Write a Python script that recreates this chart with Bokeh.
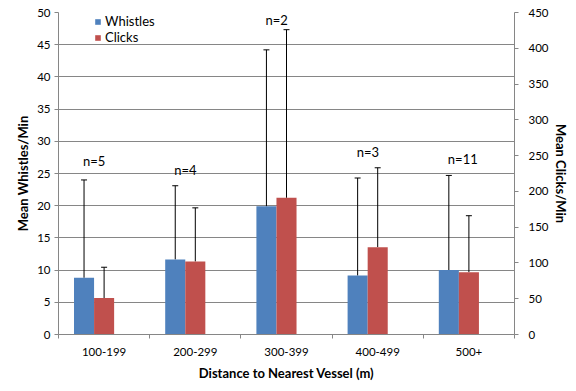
from bokeh.plotting import figure
from bokeh.models import (Range1d, LinearAxis, FixedTicker, Whisker, TeeHead, Legend,
                          LegendItem, ColumnDataSource)
from bokeh.transform import dodge
from bokeh.core.properties import value
from bokeh.embed import file_html
from bokeh.resources import INLINE

categories = ["100-199", "200-299", "300-399", "400-499", "500+"]
whistles = [8.8, 11.65, 19.9, 9.15, 10.0]
whistles_err_top = [24.0, 23.1, 44.2, 24.3, 24.7]
clicks = [51, 102, 191, 122, 87]
clicks_err_top = [94, 177, 426, 233, 166]
n_labels = ["n=5", "n=4", "n=2", "n=3", "n=11"]
n_label_y = [26.9, 25.6, 48.9, 28.4, 27.3]
left_ticks = list(range(0, 51, 5))
right_ticks = list(range(0, 451, 50))

FONT = "Lato"
GRAY = "#868686"
BLUE = "#4F81BD"
RED = "#C0504D"
TICK_FS = "11.5px"
TEXT_FS = "13px"

ncat = len(categories)
centers = [i + 0.5 for i in range(ncat)]
bounds = list(range(ncat + 1))
src = ColumnDataSource(dict(x=centers, cat=categories, w=whistles, we=whistles_err_top,
                            c=clicks, ce=clicks_err_top, lab=n_labels, ly=n_label_y))

p = figure(frame_width=456, frame_height=322, x_range=Range1d(0, ncat),
           y_range=Range1d(0, 50), output_backend="svg", toolbar_location=None,
           x_axis_location=None, y_axis_location=None,
           min_border_left=58, min_border_right=10, min_border_top=12, min_border_bottom=10)
p.extra_y_ranges = {"clicks": Range1d(0, 450)}
p.outline_line_color = None
p.background_fill_color = "white"

def style_axis(ax):
    ax.axis_line_color = GRAY
    ax.major_tick_line_color = GRAY
    ax.minor_tick_line_color = None
    ax.major_tick_in = 0
    ax.major_tick_out = 4
    ax.major_label_text_font = FONT
    ax.major_label_text_font_size = TICK_FS
    ax.major_label_text_color = "black"
    ax.axis_label_text_font = FONT
    ax.axis_label_text_font_size = TEXT_FS
    ax.axis_label_text_font_style = "bold"
    ax.axis_label_text_color = "black"

yl = LinearAxis(ticker=FixedTicker(ticks=left_ticks), axis_label="Mean Whistles/Min")
style_axis(yl)
yl.major_label_standoff = 4
yl.axis_label_standoff = 3
p.add_layout(yl, "left")

yr = LinearAxis(y_range_name="clicks", ticker=FixedTicker(ticks=right_ticks), axis_label="Mean Clicks/Min")
style_axis(yr)
yr.major_label_standoff = 10
yr.axis_label_standoff = 1
p.add_layout(yr, "right")

xc = LinearAxis(ticker=FixedTicker(ticks=centers, minor_ticks=bounds),
                axis_label="Distance to Nearest Vessel (m)",
                major_label_overrides={c: cat for c, cat in zip(centers, categories)})
style_axis(xc)
xc.major_tick_line_color = None
xc.major_tick_out = 0
xc.minor_tick_line_color = GRAY
xc.minor_tick_in = 0
xc.minor_tick_out = 4
xc.major_label_standoff = 9
xc.axis_label_standoff = 6
p.add_layout(xc, "below")

p.xgrid.visible = False
p.ygrid.grid_line_color = GRAY
p.ygrid.ticker = FixedTicker(ticks=left_ticks)

WOFF = -0.22
rw = p.vbar(x=dodge("x", WOFF), top="w", width=0.22, source=src,
            fill_color=BLUE, line_color=None)
rc = p.vbar(x=dodge("x", 0.0), top="c", width=0.22, source=src,
            fill_color=RED, line_color=None, y_range_name="clicks")

ww = Whisker(base=dodge("x", WOFF), lower="w", upper="we", source=src,
             line_color="black", line_width=1,
             upper_head=TeeHead(size=6, line_color="black", line_width=1), lower_head=None)
p.add_layout(ww)
wc = Whisker(base=dodge("x", 0.0), lower="c", upper="ce", source=src,
             line_color="black", line_width=1, y_range_name="clicks",
             upper_head=TeeHead(size=6, line_color="black", line_width=1), lower_head=None)
p.add_layout(wc)

p.text(x=dodge("x", WOFF), y="ly", text="lab", source=src,
       text_font=value(FONT), text_font_size=TEXT_FS, text_align="left",
       text_baseline="middle", text_color="black", x_offset=-1)

legend = Legend(items=[LegendItem(label="Whistles", renderers=[rw]),
                       LegendItem(label="Clicks", renderers=[rc])],
                location=(36, 289), orientation="vertical")
legend.glyph_width = 7
legend.glyph_height = 7
legend.label_height = 15
legend.label_standoff = 4
legend.spacing = 0
legend.padding = 3
legend.margin = 0
legend.border_line_color = None
legend.background_fill_alpha = 0
legend.label_text_font = FONT
legend.label_text_font_size = TEXT_FS
legend.label_text_color = "black"
p.add_layout(legend, "center")

open("out.html", "w").write(file_html(p, INLINE))
